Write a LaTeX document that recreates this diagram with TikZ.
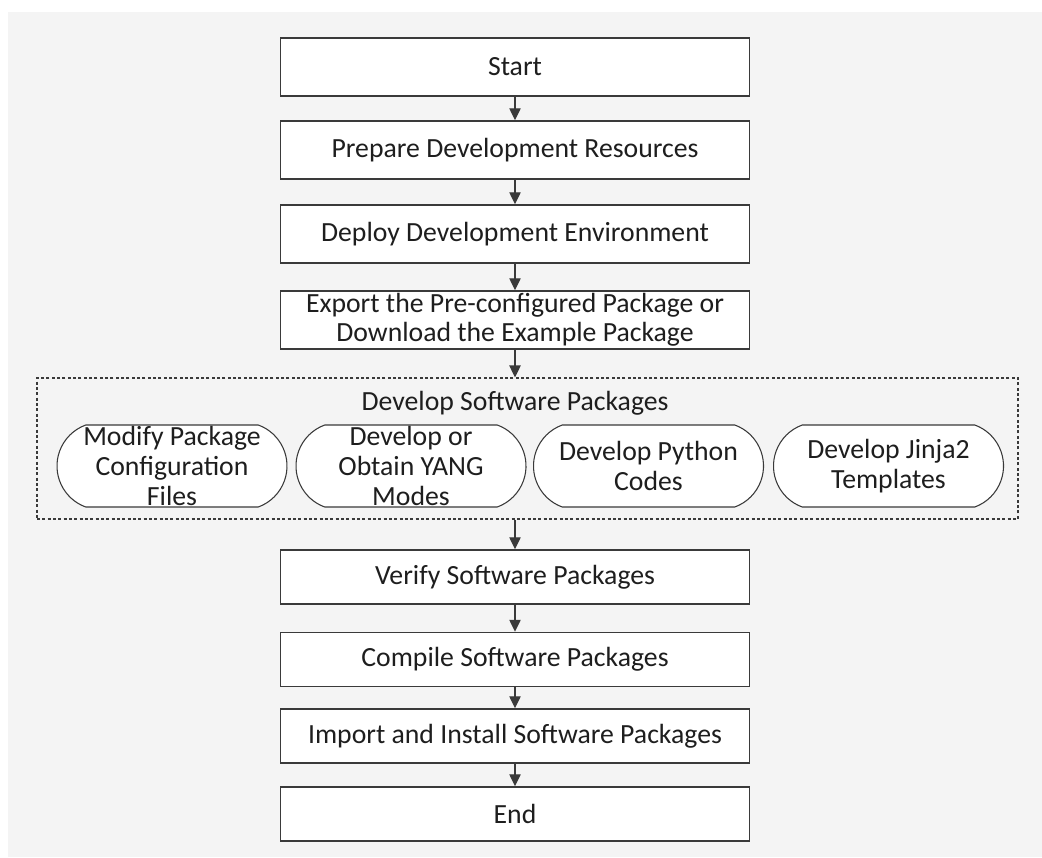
\documentclass[tikz,border=0pt]{standalone}
\usepackage{fontspec}
\setmainfont{Carlito}
\usetikzlibrary{arrows.meta,shapes.misc}
\definecolor{fondo}{HTML}{F4F4F4}
\definecolor{trazo}{HTML}{3A3A3A}
\definecolor{letra}{HTML}{1E1E1E}

\begin{document}
\begin{tikzpicture}[x=0.75pt,y=-0.75pt,
    paso/.style={draw=trazo, line width=1.1pt, fill=white, text=letra,
      minimum width=351.75pt, minimum height=43.5pt, inner sep=0pt,
      align=center, font=\fontsize{20.8}{21.5}\selectfont},
    pasob/.style={paso, minimum height=40.5pt},
    pastilla/.style={rounded rectangle, rounded rectangle arc length=140,
      draw=trazo, line width=0.8pt, fill=white,
      minimum width=172.5pt, minimum height=61.5pt, inner sep=0pt},
    texto/.style={text=letra, align=center, inner sep=0pt,
      font=\fontsize{20.8}{22.5}\selectfont},
    grupo/.style={draw=trazo, line width=0.8pt, dash pattern=on 2.2pt off 1.8pt,
      minimum width=735.75pt, minimum height=105.75pt, inner sep=0pt},
    flecha/.style={draw=trazo, line width=1pt, -{Triangle[length=9pt,width=8.5pt]}}]
  \useasboundingbox (0,0) rectangle (1042,857);
  \fill[fondo] (8,12) rectangle (1042,857);

  % Pasos previos
  \node[paso] (start) at (515,67) {Start};
  \node[paso] (prepare) at (515,150) {Prepare Development Resources};
  \node[paso] (deploy) at (515,234) {Deploy Development Environment};
  \node[paso] (export) at (515,320) {Export the Pre-configured Package or\\Download the Example Package};

  % Grupo de desarrollo
  \node[grupo] (develop) at (527.5,448.5) {};
  \node[texto] (devtitle) at (515,403) {Develop Software Packages};
  \node[pastilla, label={[texto]center:Modify Package\\Configuration\\Files}] (modify) at (172,466) {};
  \node[pastilla, label={[texto]center:Develop or\\Obtain YANG\\Modes}] (yang) at (411,466) {};
  \node[pastilla, label={[texto]center:Develop Python\\Codes}] (python) at (648.5,466) {};
  \node[pastilla, label={[texto]center:Develop Jinja2\\Templates}] (jinja) at (888.5,466) {};

  % Pasos finales
  \node[pasob] (verify) at (515,577) {Verify Software Packages};
  \node[pasob] (compile) at (515,659.5) {Compile Software Packages};
  \node[pasob] (import) at (515,736) {Import and Install Software Packages};
  \node[pasob] (end) at (515,814) {End};

  % Flechas
  \draw[flecha] (start) -- (prepare);
  \draw[flecha] (prepare) -- (deploy);
  \draw[flecha] (deploy) -- (export);
  \draw[flecha] (export.south) -- (export.south |- develop.north);
  \draw[flecha] (develop.south -| verify.north) -- (verify.north);
  \draw[flecha] (verify) -- (compile);
  \draw[flecha] (compile) -- (import);
  \draw[flecha] (import) -- (end);
\end{tikzpicture}
\end{document}
